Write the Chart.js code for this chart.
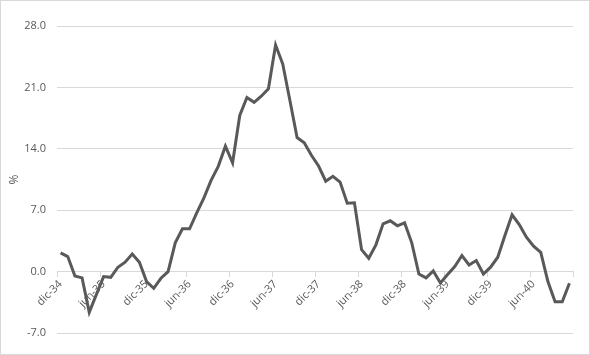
<!DOCTYPE html>
<html>
<head>
<meta charset="utf-8">
<script src="https://cdn.jsdelivr.net/npm/chart.js@4/dist/chart.umd.min.js"></script>
<style>
  html, body { margin: 0; padding: 0; background: #fff; }
  #wrap { width: 590px; height: 355px; box-sizing: border-box; border: 1px solid #d9d9d9; }
</style>
</head>
<body>
<div id="wrap"><canvas id="chart" width="588" height="353"></canvas></div>
<script>
const months = [
  "dic-34",
  "ene-35", "feb-35", "mar-35", "abr-35", "may-35", "jun-35", "jul-35", "ago-35", "sep-35", "oct-35", "nov-35", "dic-35",
  "ene-36", "feb-36", "mar-36", "abr-36", "may-36", "jun-36", "jul-36", "ago-36", "sep-36", "oct-36", "nov-36", "dic-36",
  "ene-37", "feb-37", "mar-37", "abr-37", "may-37", "jun-37", "jul-37", "ago-37", "sep-37", "oct-37", "nov-37", "dic-37",
  "ene-38", "feb-38", "mar-38", "abr-38", "may-38", "jun-38", "jul-38", "ago-38", "sep-38", "oct-38", "nov-38", "dic-38",
  "ene-39", "feb-39", "mar-39", "abr-39", "may-39", "jun-39", "jul-39", "ago-39", "sep-39", "oct-39", "nov-39", "dic-39",
  "ene-40", "feb-40", "mar-40", "abr-40", "may-40", "jun-40", "jul-40", "ago-40", "sep-40", "oct-40", "nov-40"
];

const values = [
  2.13, 1.71, -0.5, -0.72, -4.65, -2.6, -0.57, -0.65, 0.5, 1.07, 2.0, 1.07,
  -1.14, -1.9, -0.76, 0.0, 3.28, 4.88, 4.88, 6.7, 8.4, 10.4, 12.0, 14.3,
  12.4, 17.8, 19.85, 19.3, 20.0, 20.84, 25.83, 23.66, 19.5, 15.28, 14.7, 13.26,
  12.04, 10.3, 10.86, 10.2, 7.8, 7.85, 2.5, 1.52, 3.05, 5.45, 5.79, 5.22,
  5.56, 3.28, -0.27, -0.72, 0.08, -1.3, -0.34, 0.57, 1.83, 0.76, 1.26, -0.27,
  0.5, 1.64, 4.11, 6.48, 5.37, 3.92, 2.9, 2.2, -1.14, -3.43, -3.43, -1.33
];

const yMin = -7;
const yMax = 28;
const yStep = 7;
const labelEvery = 6;

const gridGray = "#d9d9d9";
const textGray = "#595959";
const font = { family: "'Open Sans', sans-serif", size: 11 };

// tick marks only every 6 months (plus the closing edge)
const xTickColor = (ctx) =>
  ctx.index === undefined || ctx.index % labelEvery === 0 ? gridGray : "rgba(0,0,0,0)";

new Chart("chart", {
  type: "line",
  data: {
    labels: months,
    datasets: [
      {
        data: values,
        borderColor: "#595959",
        borderWidth: 3,
        pointRadius: 0,
        tension: 0,
        fill: false
      }
    ]
  },
  options: {
    responsive: false,
    animation: false,
    layout: { padding: { left: 2, right: 16, top: 25, bottom: 21 } },
    plugins: { legend: { display: false }, tooltip: { enabled: false } },
    scales: {
      x: {
        type: "category",
        position: { y: 0 },
        offset: true,
        grid: {
          offset: true,
          drawOnChartArea: false,
          drawTicks: true,
          tickLength: 5,
          color: xTickColor,
          tickColor: xTickColor
        },
        border: { display: true, color: gridGray, width: 1 },
        ticks: {
          autoSkip: false,
          minRotation: 45,
          maxRotation: 45,
          padding: 1,
          color: textGray,
          font: font,
          callback: function (value, index) {
            return index % labelEvery === 0 ? this.getLabelForValue(value) : "";
          }
        }
      },
      y: {
        min: yMin,
        max: yMax,
        afterFit: (scale) => { scale.width = 54; },
        grid: { color: gridGray, drawTicks: false },
        border: { display: false },
        ticks: {
          stepSize: yStep,
          padding: 11,
          color: textGray,
          font: font,
          callback: (v) => v.toFixed(1)
        },
        title: { display: true, text: "%", color: textGray, font: { family: font.family, size: 12 } }
      }
    }
  }
});
</script>
</body>
</html>
